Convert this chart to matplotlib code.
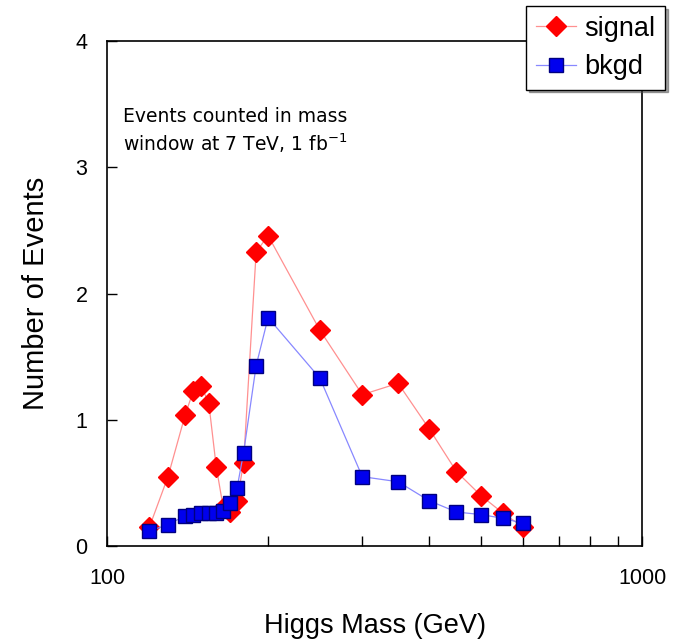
import numpy as np
import matplotlib.pyplot as plt
from matplotlib.ticker import FixedLocator, NullFormatter

# Higgs mass points (GeV) and event counts
mass_sig = [120, 130, 140, 145, 150, 155, 160, 165, 170, 175, 180, 190, 200,
            250, 300, 350, 400, 450, 500, 550, 600]
signal = [0.15, 0.55, 1.04, 1.23, 1.27, 1.13, 0.63, 0.30, 0.27, 0.36, 0.66, 2.33, 2.46,
          1.71, 1.20, 1.29, 0.93, 0.59, 0.40, 0.26, 0.15]

mass_bkg = [120, 130, 140, 145, 150, 155, 160, 165, 170, 175, 180, 190, 200,
            250, 300, 350, 400, 450, 500, 550, 600]
bkgd = [0.12, 0.17, 0.24, 0.25, 0.26, 0.26, 0.26, 0.28, 0.34, 0.46, 0.74, 1.43, 1.81,
        1.33, 0.55, 0.51, 0.36, 0.27, 0.25, 0.22, 0.18]

plt.rcParams['font.family'] = ['Liberation Sans', 'DejaVu Sans']

fig = plt.figure(figsize=(6.73, 6.44), dpi=100)
ax = fig.add_axes([0.159, 0.152, 0.795, 0.784])

ax.plot(mass_sig, signal, color='#ff9090', lw=0.9, marker='D', ms=10.5,
        mfc='red', mec='red', label='signal', zorder=3)
ax.plot(mass_bkg, bkgd, color='#8888ff', lw=0.9, marker='s', ms=10,
        mfc='#0000ee', mec='#000080', mew=1.0, label='bkgd', zorder=4)

ax.set_xscale('log')
ax.set_xlim(100, 1000)
ax.set_ylim(0, 4)
ax.xaxis.set_major_locator(FixedLocator([100, 1000]))
ax.xaxis.set_minor_locator(FixedLocator(np.arange(200, 1000, 100)))
ax.xaxis.set_minor_formatter(NullFormatter())
ax.set_xticklabels(['100', '1000'])
ax.set_yticks([0, 1, 2, 3, 4])
ax.tick_params(direction='in', labelsize=15.5, length=7, width=1)
ax.tick_params(axis='x', which='minor', direction='in', length=7, width=1)
ax.tick_params(axis='x', pad=16)
ax.tick_params(axis='y', pad=14)
for s in ax.spines.values():
    s.set_linewidth(1.2)

ax.set_xlabel('Higgs Mass (GeV)', fontsize=19.5, labelpad=17)
ax.set_ylabel('Number of Events', fontsize=21, labelpad=18)

ax.text(0.03, 0.87, 'Events counted in mass\nwindow at 7 TeV, 1 fb$^{-1}$',
        transform=ax.transAxes, fontsize=13.5, family='DejaVu Sans',
        va='top', ha='left', linespacing=1.3)

leg = ax.legend(loc='upper right', bbox_to_anchor=(0.988, 0.99),
                bbox_transform=fig.transFigure, fontsize=19.5, frameon=True,
                fancybox=False, shadow=True, handlelength=1.5,
                borderpad=0.35, labelspacing=0.45, handletextpad=0.3,
                borderaxespad=0)
leg.get_frame().set_edgecolor('black')
leg.get_frame().set_linewidth(1.0)

fig.savefig('out.png', dpi=100)
